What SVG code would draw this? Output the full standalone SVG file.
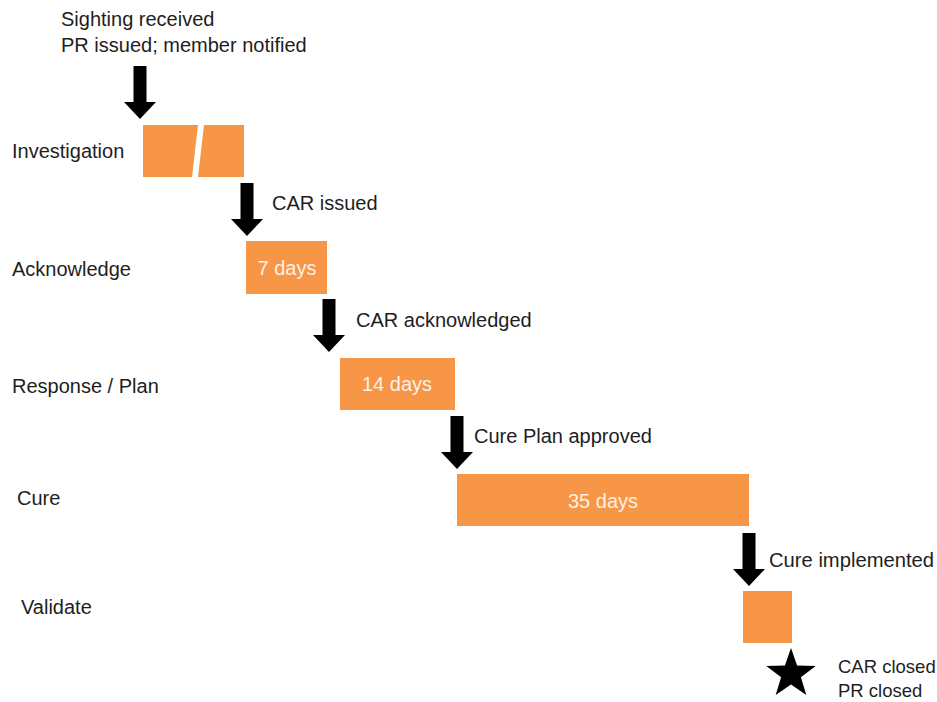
<svg xmlns="http://www.w3.org/2000/svg" width="937" height="702" viewBox="0 0 937 702">
<defs>
<style>
.lbl{font-family:"Liberation Sans",Arial,sans-serif;font-size:20px;fill:#1e1e1e}
.sm{font-size:18.5px}
.in{font-family:"Liberation Sans",Arial,sans-serif;font-size:20px;fill:#fdf1e6;text-anchor:middle}
.box{fill:#F79646}
.arr{fill:#000}
</style>
<path id="arrow" d="M-6.5,0 H6.5 V36 H16 L0,53 L-16,36 H-6.5 Z"/>
</defs>
<rect width="937" height="702" fill="#fff"/>
<g id="investigation">
<text class="lbl" x="12" y="158">Investigation</text>
<polygon class="box" points="143,125 198,125 192,177 143,177"/>
<polygon class="box" points="204,125 244,125 244,177 198,177"/>
</g>
<g id="acknowledge">
<text class="lbl" x="12" y="276">Acknowledge</text>
<rect class="box" x="246" y="241" width="81" height="53"/>
<text class="in" x="287" y="275">7 days</text>
</g>
<g id="response">
<text class="lbl" x="12" y="393">Response / Plan</text>
<rect class="box" x="340" y="358" width="115" height="52"/>
<text class="in" x="397" y="391">14 days</text>
</g>
<g id="cure">
<text class="lbl" x="17" y="505">Cure</text>
<rect class="box" x="457" y="474" width="292" height="52"/>
<text class="in" x="603" y="508">35 days</text>
</g>
<g id="validate">
<text class="lbl" x="21" y="614">Validate</text>
<rect class="box" x="743" y="591" width="49" height="52"/>
</g>
<g id="closed">
<polygon class="arr" points="791,648 797.1,665.6 815.7,666 800.9,677.3 806.3,695 791,684.4 775.7,695 781.1,677.3 766.3,666 784.9,665.6"/>
<text class="lbl sm" x="838" y="673">CAR closed</text>
<text class="lbl sm" x="838" y="697">PR closed</text>
</g>
<g id="connectors">
<text class="lbl" x="61" y="26">Sighting received</text>
<text class="lbl" x="61" y="52">PR issued; member notified</text>
<use class="arr" href="#arrow" x="140" y="66"/>
<use class="arr" href="#arrow" x="247" y="183"/>
<text class="lbl" x="272" y="210">CAR issued</text>
<use class="arr" href="#arrow" x="329" y="299"/>
<text class="lbl" x="356" y="327">CAR acknowledged</text>
<use class="arr" href="#arrow" x="457" y="416"/>
<text class="lbl" x="474" y="443">Cure Plan approved</text>
<use class="arr" href="#arrow" x="749" y="533"/>
<text class="lbl" x="769" y="567" textLength="165" lengthAdjust="spacingAndGlyphs">Cure implemented</text>
</g>
</svg>
